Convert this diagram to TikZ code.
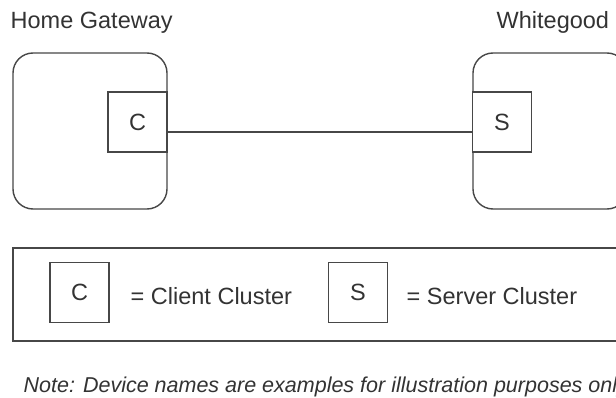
\documentclass[tikz,border=0pt]{standalone}
\usepackage{fontspec}
\setmainfont{Liberation Sans}
\begin{document}
\begin{tikzpicture}[x=1pt,y=-1pt,
  ln/.style={draw=black!72, line width=1.4pt},
  device/.style={ln, rounded corners=20pt, minimum width=154pt, minimum height=156pt, inner sep=0pt},
  cluster/.style={ln, fill=white, minimum width=59pt, minimum height=60pt, inner sep=0pt, font=\fontsize{23.5}{28}\selectfont, text=black!80},
  lbl/.style={inner sep=0pt, anchor=base west, font=\fontsize{23.5}{28}\selectfont, text=black!80},
  note/.style={inner sep=0pt, anchor=base west, font=\fontsize{21.5}{26}\selectfont\itshape, text=black!80}]
\useasboundingbox (0,0) rectangle (616,398);
\fill[white] (0,0) rectangle (616,398);
\clip (0,0) rectangle (616,398);
% device titles
\node[lbl] (hgt) at (10.5,29) {Home Gateway};
\node[lbl] (wgt) at (496.5,29) {Whitegood};
% devices
\node[device] (hg) at (90,131) {};
\node[device] (wg) at (550,131) {};
\node[cluster] (c) at (137.5,122) {C};
\node[cluster] (s) at (502,122) {S};
\coordinate (ly) at (0,132);
\draw[ln] (c.east |- ly) -- (s.west |- ly);
% legend
\node[ln, minimum width=627pt, minimum height=93pt, inner sep=0pt] (leg) at (326.5,294.5) {};
\node[cluster] (lc) at (79.5,292.5) {C};
\node[cluster] (ls) at (358,292.5) {S};
\node[lbl] (lct) at (130.5,304) {= Client Cluster};
\node[lbl] (lst) at (406.5,304) {= Server Cluster};
% note
\node[note] (nt) at (23.5,392) {Note: Device names are examples for illustration purposes only};
\end{tikzpicture}
\end{document}
